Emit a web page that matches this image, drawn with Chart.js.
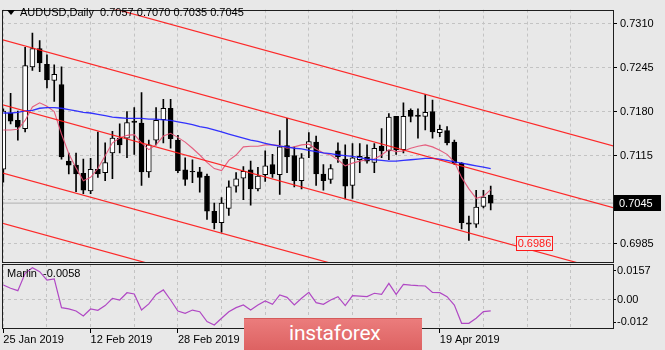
<!DOCTYPE html>
<html>
<head>
<meta charset="utf-8">
<script src="https://cdn.jsdelivr.net/npm/chart.js@4.4.1/dist/chart.umd.min.js"></script>
<style>
  body { margin: 0; background: #e8e8e8; }
  #wrap { position: relative; width: 665px; height: 350px; background: #e8e8e8; overflow: hidden; font-family: "Liberation Sans", Arial, sans-serif; }
  #wrap canvas { position: absolute; left: 0; top: 0; }
  .lbl { position: absolute; font-size: 11px; line-height: 13px; color: #000; white-space: pre; }
  #tri { position: absolute; left: 7px; top: 10px; width: 0; height: 0; border-left: 4px solid transparent; border-right: 4px solid transparent; border-top: 5px solid #000; }
  #logo { position: absolute; left: 244px; top: 318px; width: 178px; height: 32px; background: linear-gradient(#eb7c7c, #dd6262); border-top: 1px solid #d45a5a; box-sizing: border-box; }
  #logo span { position: absolute; left: 45px; top: 2px; font: 21px Roboto, "Open Sans", sans-serif; color: #fff; letter-spacing: -0.2px; }
</style>
</head>
<body>
<div id="wrap">
  <canvas id="chMain" width="665" height="350"></canvas>
  <canvas id="chOsc" width="665" height="350"></canvas>
  <div id="tri"></div>
  <div class="lbl" id="title" style="left:20px;top:6px;"></div>
  <div class="lbl" id="oscTitle" style="left:7px;top:267px;"></div>
  <div id="logo"><span>instaforex</span></div>
</div>
<script>
// ============ 数据 ============
const symbol = 'AUDUSD,Daily';

// 日K线 (25 Jan 2019 起, 共68根)
const opens  = [0.7095,0.7178,0.7167,0.7155,0.7246,0.7273,0.7250,0.7226,0.7220,0.7107,
                0.7101,0.7089,0.7063,0.7095,0.7090,0.7119,0.7141,0.7141,0.7166,0.7163,
                0.7091,0.7138,0.7168,0.7185,0.7138,0.7094,0.7092,0.7091,0.7085,0.7033,
                0.7016,0.7037,0.7070,0.7082,0.7094,0.7066,0.7087,0.7102,0.7087,0.7130,
                0.7115,0.7078,0.7126,0.7135,0.7088,0.7080,0.7122,0.7110,0.7071,0.7109,
                0.7113,0.7105,0.7129,0.7122,0.7173,0.7124,0.7182,0.7175,0.7173,0.7180,
                0.7149,0.7152,0.7135,0.7104,0.7016,0.7014,0.7040,0.7057];
const highs  = [0.7184,0.7207,0.7181,0.7275,0.7296,0.7285,0.7264,0.7249,0.7246,0.7119,
                0.7119,0.7110,0.7111,0.7150,0.7134,0.7151,0.7162,0.7180,0.7186,0.7208,
                0.7138,0.7186,0.7198,0.7198,0.7145,0.7112,0.7109,0.7098,0.7088,0.7045,
                0.7053,0.7078,0.7090,0.7099,0.7107,0.7098,0.7122,0.7117,0.7152,0.7170,
                0.7128,0.7118,0.7149,0.7144,0.7102,0.7102,0.7134,0.7131,0.7133,0.7133,
                0.7131,0.7133,0.7155,0.7177,0.7173,0.7193,0.7184,0.7184,0.7205,0.7197,
                0.7160,0.7158,0.7138,0.7105,0.7026,0.7064,0.7064,0.7070];
const lows   = [0.7076,0.7162,0.7138,0.7150,0.7241,0.7239,0.7215,0.7195,0.7110,0.7088,
                0.7062,0.7059,0.7059,0.7083,0.7078,0.7081,0.7119,0.7112,0.7117,0.7071,
                0.7083,0.7131,0.7134,0.7126,0.7090,0.7071,0.7075,0.7061,0.7021,0.7007,
                0.7002,0.7027,0.7061,0.7050,0.7042,0.7063,0.7077,0.7083,0.7058,0.7090,
                0.7069,0.7066,0.7112,0.7071,0.7064,0.7074,0.7105,0.7052,0.7052,0.7090,
                0.7104,0.7090,0.7112,0.7109,0.7117,0.7119,0.7165,0.7141,0.7153,0.7141,
                0.7143,0.7131,0.7102,0.7007,0.6990,0.7009,0.7038,0.7035];
const closes = [0.7181,0.7166,0.7157,0.7248,0.7273,0.7252,0.7227,0.7235,0.7113,0.7101,
                0.7088,0.7064,0.7095,0.7088,0.7105,0.7141,0.7131,0.7164,0.7164,0.7091,
                0.7131,0.7167,0.7185,0.7140,0.7093,0.7080,0.7091,0.7083,0.7033,0.7016,
                0.7045,0.7069,0.7081,0.7092,0.7066,0.7085,0.7100,0.7088,0.7128,0.7113,
                0.7078,0.7112,0.7136,0.7088,0.7078,0.7096,0.7113,0.7070,0.7112,0.7114,
                0.7107,0.7126,0.7122,0.7172,0.7124,0.7173,0.7173,0.7173,0.7179,0.7150,
                0.7154,0.7134,0.7104,0.7016,0.7014,0.7039,0.7054,0.7045];

// 均线: 蓝色慢线, 粉色快线
const maSlow = [0.7178,0.7178,0.7179,0.7181,0.7182,0.7185,0.7186,0.7186,0.7185,0.7183,
                0.7181,0.7179,0.7178,0.7176,0.7174,0.7172,0.7171,0.7170,0.7170,0.7170,
                0.7169,0.7169,0.7168,0.7167,0.7165,0.7163,0.7161,0.7158,0.7156,0.7153,
                0.7150,0.7147,0.7144,0.7141,0.7138,0.7136,0.7133,0.7131,0.7129,0.7128,
                0.7126,0.7125,0.7123,0.7121,0.7119,0.7118,0.7116,0.7115,0.7114,0.7112,
                0.7110,0.7109,0.7108,0.7107,0.7107,0.7108,0.7109,0.7110,0.7111,0.7111,
                0.7110,0.7108,0.7106,0.7104,0.7102,0.7100,0.7098,0.7096];
const maFast = [0.7153,0.7153,0.7154,0.7167,0.7187,0.7193,0.7188,0.7180,0.7147,0.7118,
                0.7097,0.7078,0.7083,0.7096,0.7115,0.7134,0.7141,0.7145,0.7146,0.7134,
                0.7124,0.7131,0.7144,0.7148,0.7142,0.7135,0.7126,0.7116,0.7105,0.7096,
                0.7093,0.7108,0.7116,0.7128,0.7129,0.7129,0.7131,0.7131,0.7130,0.7126,
                0.7128,0.7131,0.7132,0.7125,0.7119,0.7116,0.7109,0.7100,0.7104,0.7107,
                0.7109,0.7110,0.7116,0.7124,0.7121,0.7122,0.7126,0.7129,0.7131,0.7128,
                0.7123,0.7117,0.7106,0.7083,0.7066,0.7052,0.7055,0.7065];

// Marlin 振荡指标
const marlin = [0.0080,0.0063,0.0050,0.0143,0.0173,0.0152,0.0107,0.0113,-0.0041,-0.0048,
                -0.0059,-0.0086,-0.0048,-0.0055,-0.0030,0.0009,0.0000,0.0039,0.0032,-0.0054,
                -0.0021,0.0030,0.0054,0.0000,-0.0059,-0.0071,-0.0054,-0.0063,-0.0116,-0.0134,
                -0.0098,-0.0063,-0.0041,-0.0027,-0.0054,-0.0027,-0.0005,-0.0023,0.0027,0.0014,
                -0.0027,0.0009,0.0041,-0.0014,-0.0023,0.0000,0.0018,-0.0030,0.0023,0.0021,
                0.0018,0.0036,0.0030,0.0089,0.0030,0.0084,0.0080,0.0077,0.0075,0.0041,
                0.0039,0.0018,-0.0027,-0.0125,-0.0125,-0.0098,-0.0062,-0.0058];

// 平行通道线: 起点(第-1根)与终点(第84根)价格
const channelFromBar = -1, channelToBar = 84;
const channelFrom = [0.73797, 0.72887, 0.71928, 0.70921, 0.70178];
const channelTo   = [0.71289, 0.70379, 0.69420, 0.68413, 0.67670];

// 目标价标签
const targetPrice = 0.6986, targetBar = 73;

// 坐标轴
const priceTicks = [0.7310, 0.7245, 0.7180, 0.7115, 0.7050, 0.6985];
const marlinTicks = [0.0157, 0, -0.012];
const marlinTickLabels = ['0.0157', '0.00', '-0.012'];
const gridBars = [0, 6, 12, 18, 24, 30, 36, 42, 48, 54, 60, 66, 72, 78];
const labelBars = [0, 12, 24, 36, 48, 60];
const dateLabels = ['25 Jan 2019', '12 Feb 2019', '28 Feb 2019', '18 Mar 2019', '3 Apr 2019', '19 Apr 2019'];

const X_MIN = -0.18, X_MAX = 83.81;
const FONT = '"Liberation Sans", Arial, sans-serif';
Chart.defaults.font.family = FONT;
Chart.defaults.font.size = 11;
Chart.defaults.color = '#000';

const last = closes.length - 1;
document.getElementById('title').textContent =
  symbol + '  ' + [opens[last], highs[last], lows[last], closes[last]].map(v => v.toFixed(4)).join(' ');
document.getElementById('oscTitle').textContent = 'Marlin  ' + marlin[last].toFixed(4);

// ============ 插件 ============
const framePlugin = {
  id: 'frame',
  afterDraw(chart) {
    const { ctx, chartArea: a } = chart;
    ctx.save();
    ctx.strokeStyle = '#1e1e1e';
    ctx.lineWidth = 1;
    ctx.strokeRect(Math.round(a.left) + 0.5, Math.round(a.top) + 0.5,
      Math.round(a.right - a.left), Math.round(a.bottom - a.top));
    ctx.restore();
  }
};

const tagPlugin = {
  id: 'tags',
  afterDraw(chart) {
    const { ctx, chartArea: a, scales: { x, y } } = chart;
    ctx.save();
    ctx.font = '11px ' + FONT;
    ctx.textBaseline = 'middle';
    // 当前价
    const py = Math.round(y.getPixelForValue(closes[last]));
    ctx.fillStyle = '#000';
    ctx.fillRect(a.right + 1, py - 8, 47, 16);
    ctx.fillStyle = '#fff';
    ctx.fillText(closes[last].toFixed(4), a.right + 6, py + 0.5);
    // 目标价
    const tx = Math.round(x.getPixelForValue(targetBar));
    const ty = Math.round(y.getPixelForValue(targetPrice));
    ctx.fillStyle = '#ececec';
    ctx.fillRect(tx - 18, ty - 7, 36, 14);
    ctx.strokeStyle = '#ff1a1a';
    ctx.strokeRect(tx - 17.5, ty - 6.5, 36, 14);
    ctx.fillStyle = '#ff1a1a';
    ctx.textAlign = 'center';
    ctx.fillText(targetPrice.toFixed(4), tx + 0.5, ty + 0.5);
    ctx.restore();
  }
};

// ============ 主图 ============
const bars = closes.map((c, i) => i);
const candleBody = bars.map(i => ({ x: i, y: [opens[i], closes[i]] }));
const candleWick = bars.map(i => ({ x: i, y: [lows[i], highs[i]] }));
const lineOf = arr => arr.map((v, i) => ({ x: i, y: v }));

const channelSets = channelFrom.map((p, k) => ({
  type: 'line',
  data: [{ x: channelFromBar, y: p }, { x: channelToBar, y: channelTo[k] }],
  borderColor: 'rgba(255,20,20,0.9)', borderWidth: 1.2, pointRadius: 0, order: 1
}));

new Chart(document.getElementById('chMain'), {
  type: 'line',
  data: {
    datasets: [
      { type: 'line', data: [{ x: channelFromBar, y: closes[last] }, { x: channelToBar, y: closes[last] }],
        borderColor: '#b0b0b0', borderWidth: 1, pointRadius: 0, order: 5 },
      { type: 'bar', data: candleWick, backgroundColor: '#000', barThickness: 1, grouped: false, order: 4 },
      { type: 'bar', data: candleBody, grouped: false, barThickness: 5, borderWidth: 1, borderSkipped: false,
        borderColor: '#000',
        backgroundColor: c => closes[c.dataIndex] >= opens[c.dataIndex] ? '#fff' : '#000', order: 3 },
      { type: 'line', data: lineOf(maSlow), borderColor: 'rgba(30,30,255,0.9)', borderWidth: 1.3, pointRadius: 0, order: 2 },
      { type: 'line', data: lineOf(maFast), borderColor: 'rgba(228,80,115,0.9)', borderWidth: 1.1, pointRadius: 0, order: 2 },
      ...channelSets
    ]
  },
  options: {
    responsive: false, animation: false, events: [],
    layout: { padding: { left: 2, top: 3, right: 0, bottom: 0 } },
    plugins: { legend: { display: false }, tooltip: { enabled: false } },
    scales: {
      x: {
        type: 'linear', min: X_MIN, max: X_MAX, offset: false,
        grid: { color: '#c3c3c3', offset: false, drawTicks: false },
        border: { display: false, dash: [3, 3] },
        ticks: { display: false },
        afterBuildTicks: s => { s.ticks = gridBars.map(v => ({ value: v })); },
        afterFit: s => { s.height = 88; }
      },
      y: {
        position: 'right', min: 0.69581, max: 0.73306,
        grid: { color: '#c3c3c3', tickColor: '#000', tickLength: 4 },
        border: { display: false, dash: [3, 3] },
        ticks: { padding: 3, callback: v => v.toFixed(4) },
        afterBuildTicks: s => { s.ticks = priceTicks.map(v => ({ value: v })); },
        afterFit: s => { s.width = 52; }
      }
    }
  },
  plugins: [framePlugin, tagPlugin]
});

// ============ 副图: Marlin ============
new Chart(document.getElementById('chOsc'), {
  type: 'line',
  data: {
    datasets: [
      { data: lineOf(marlin), borderColor: 'rgb(176,72,196)', borderWidth: 1.2, pointRadius: 0 }
    ]
  },
  options: {
    responsive: false, animation: false, events: [],
    layout: { padding: { left: 2, top: 264, right: 0, bottom: 0 } },
    plugins: { legend: { display: false }, tooltip: { enabled: false } },
    scales: {
      x: {
        type: 'linear', min: X_MIN, max: X_MAX, offset: false,
        grid: { color: '#c3c3c3', offset: false, tickLength: 5,
                tickColor: c => labelBars.includes(c.tick && c.tick.value) ? '#000' : 'rgba(0,0,0,0)' },
        border: { display: false, dash: [3, 3] },
        ticks: { autoSkip: false, maxRotation: 0, align: 'start', padding: 0,
                 callback: v => { const k = labelBars.indexOf(v); return k >= 0 ? dateLabels[k] : ''; } },
        afterBuildTicks: s => { s.ticks = gridBars.map(v => ({ value: v })); },
        afterFit: s => { s.height = 22; }
      },
      y: {
        position: 'right', min: -0.01501, max: 0.01929,
        grid: { color: c => c.tick && c.tick.value === 0 ? '#c3c3c3' : 'rgba(0,0,0,0)', tickColor: '#000', tickLength: 3 },
        border: { display: false, dash: [3, 3] },
        ticks: { padding: 1, callback: (v, i) => marlinTickLabels[i] },
        afterBuildTicks: s => { s.ticks = marlinTicks.map(v => ({ value: v })); },
        afterFit: s => { s.width = 52; }
      }
    }
  },
  plugins: [framePlugin]
});
</script>
</body>
</html>
